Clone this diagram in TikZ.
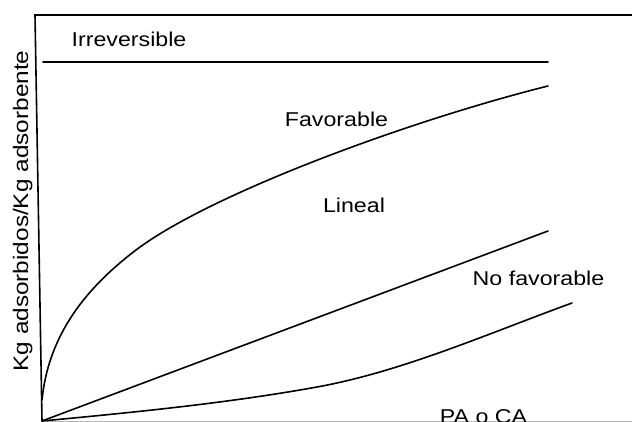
\documentclass[tikz,border=0pt]{standalone}
\usepackage{fontspec}
\setmainfont{Liberation Sans}
\usepackage{graphicx}
% labels are set slightly wider than the plain font
\newcommand\widetext[1]{\scalebox{1.16}[1]{#1}}
\begin{document}
\begin{tikzpicture}[x=1pt,y=-1pt,
  curve/.style={line width=1.6pt, line join=round, line cap=round},
  frame/.style={line width=1.6pt, line join=miter},
  lbl/.style={font=\fontsize{20}{24}\selectfont, inner sep=0pt, anchor=base}]
\clip (0,0) rectangle (632,422);
\fill[white] (0,0) rectangle (632,422);

% axes frame
\coordinate (O) at (42,421);
\coordinate (topleft) at (35,15);
\coordinate (topright) at (632,15);
\coordinate (xend) at (632,421.5);
\draw[frame] (topright) -- (topleft) -- (O);
\draw[gray!55, line width=1.2pt] (42,421.5) -- (xend);

% isotherms
\coordinate (irrA) at (43,62);
\coordinate (irrB) at (548,62);
\coordinate (linB) at (548,231);
\coordinate (favA) at (42,400);
\coordinate (favM) at (136,250);
\coordinate (favB) at (548,86);
\coordinate (nfM) at (317,387);
\coordinate (nfB) at (572,303);

% irreversible
\draw[curve] (irrA) -- (irrB);
% linear
\draw[curve] (O) -- (linB);
% favourable
\draw[curve] (favA) .. controls (48,340) and (80,292.5) .. (favM)
                    .. controls (210,194) and (408,121) .. (favB);
% unfavourable
\draw[curve] (O) .. controls (132,412.5) and (227,403.3) .. (nfM)
                 .. controls (402,371.6) and (487,334) .. (nfB);

% labels
\node[lbl] (irr) at (129,47) {\widetext{Irreversible}};
\node[lbl] (fav) at (336.5,127) {\widetext{Favorable}};
\node[lbl] (lin) at (354,213) {\widetext{Lineal}};
\begin{scope}
  \clip (440,240) rectangle (632,284.5);
  \node[lbl] (nofav) at (538.5,286) {\widetext{No favorable}};
\end{scope}
\node[lbl] (pa) at (483.5,423) {\widetext{PA o CA}};
\node[lbl, rotate=90, font=\fontsize{21}{24}\selectfont] (ylab) at (28,211)
  {\widetext{Kg adsorbidos/Kg adsorbente}};
\end{tikzpicture}
\end{document}
